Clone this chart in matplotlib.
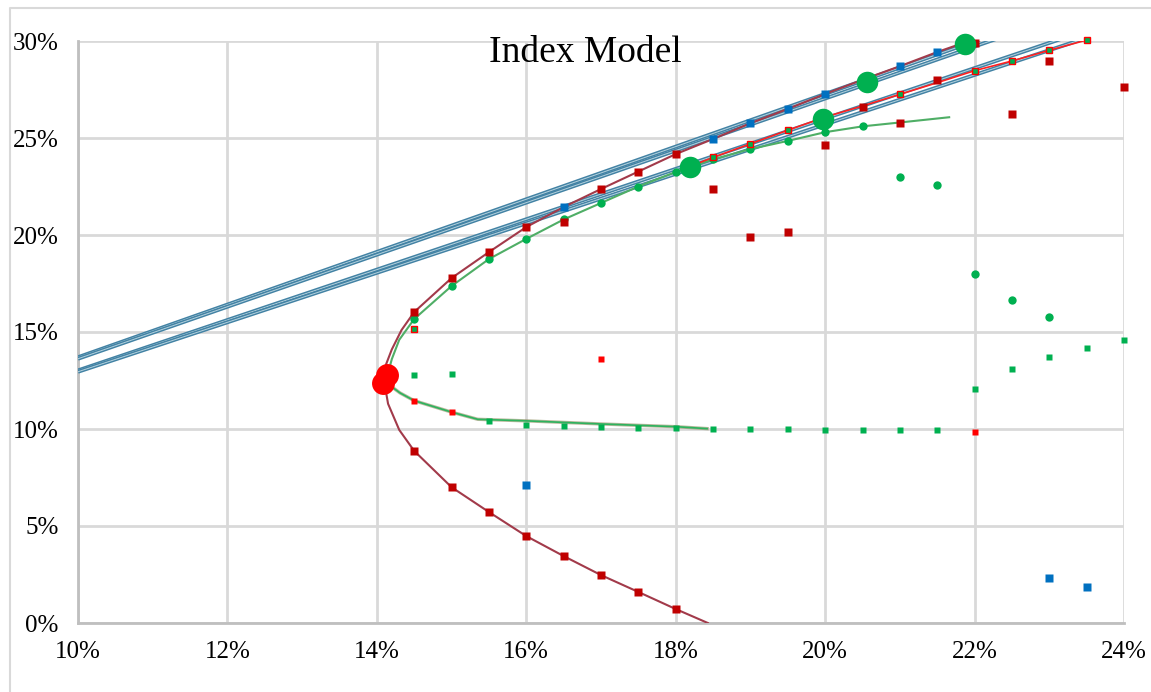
import numpy as np
import matplotlib.pyplot as plt
from matplotlib.lines import Line2D
from matplotlib.ticker import FuncFormatter

plt.rcParams['font.family'] = ['Liberation Serif', 'DejaVu Serif']

# full-covariance frontier (smooth dark red curve), sigma / mean in %
full_sd = [18.43, 18.0, 17.5, 17.0, 16.5, 16.0, 15.5, 15.0, 14.5, 14.3, 14.15, 14.1,
           14.12, 14.2, 14.33, 14.5, 15.0, 15.5, 16.0, 16.5, 17.0, 17.5, 18.0, 18.5,
           19.0, 19.5, 20.0, 20.5, 21.0, 21.5, 22.0, 22.2]
full_mu = [0.0, 0.72, 1.6, 2.47, 3.45, 4.48, 5.72, 7.0, 8.87, 9.95, 11.3, 12.4,
           13.3, 14.1, 15.1, 16.03, 17.78, 19.12, 20.41, 21.44, 22.37, 23.27, 24.17, 24.95,
           25.76, 26.5, 27.27, 28.0, 28.7, 29.43, 30.1, 30.4]

# dark red square markers
red_sd = [14.5, 15.0, 15.5, 16.0, 16.5, 17.0, 17.5, 18.0,
          14.5, 15.0, 15.5, 16.0, 17.0, 17.5, 18.0,
          16.5, 18.5, 19.0, 19.5, 20.0, 20.5, 21.0, 21.5, 22.0, 22.5, 23.0, 24.0]
red_mu = [8.87, 7.0, 5.72, 4.48, 3.45, 2.47, 1.6, 0.72,
          16.03, 17.78, 19.12, 20.41, 22.37, 23.27, 24.17,
          20.67, 22.36, 19.91, 20.17, 24.62, 26.58, 25.79, 27.99, 29.9, 26.22, 28.98, 27.64]

# blue square markers
blue_sd = [16.5, 18.5, 19.0, 19.5, 20.0, 21.0, 21.5, 16.0, 23.0, 23.5]
blue_mu = [21.44, 24.95, 25.76, 26.5, 27.27, 28.7, 29.43, 7.1, 2.3, 1.85]

# index model frontier, upper part (green line with circles)
idx_up_sd = [14.13, 14.2, 14.3, 14.5, 15.0, 15.5, 16.0, 16.5, 17.0, 17.5, 18.0, 18.5,
             19.0, 19.5, 20.0, 20.5, 21.0, 21.66]
idx_up_mu = [12.6, 13.6, 14.6, 15.67, 17.37, 18.76, 19.8, 20.8, 21.65, 22.5, 23.25, 23.9,
             24.43, 24.85, 25.3, 25.6, 25.8, 26.07]
gcirc_sd = [14.5, 15.0, 15.5, 16.0, 16.5, 17.0, 17.5, 18.0, 18.5, 19.0, 19.5, 20.0, 20.5,
            21.0, 21.5, 22.0, 22.5, 23.0]
gcirc_mu = [15.67, 17.37, 18.76, 19.8, 20.8, 21.65, 22.5, 23.25, 23.9, 24.43, 24.85, 25.3, 25.6,
            22.99, 22.58, 17.99, 16.65, 15.76]

# index model frontier, lower part
idx_lo_sd = [14.12, 14.31, 14.5, 15.0, 15.35, 16.0, 17.0, 18.0, 18.42]
idx_lo_mu = [12.4, 11.86, 11.46, 10.87, 10.5, 10.42, 10.26, 10.12, 10.02]

# small green squares
gsq_sd = [14.5, 15.0, 15.5, 16.0, 16.5, 17.0, 17.5, 18.0, 18.5, 19.0, 19.5, 20.0, 20.5, 21.0,
          21.5, 22.0, 22.5, 23.0, 23.5, 24.0]
gsq_mu = [12.78, 12.85, 10.42, 10.2, 10.15, 10.1, 10.05, 10.05, 10.0, 10.0, 10.0, 9.95, 9.95, 9.95,
          9.95, 12.06, 13.1, 13.7, 14.17, 14.57]

# small bright red squares
rsq_sd = [14.5, 15.0, 17.0, 22.0]
rsq_mu = [11.46, 10.87, 13.6, 9.86]

# bright red line with small red/green squares
line2_sd = [18.2, 18.5, 19.0, 19.5, 20.0, 20.5, 21.0, 21.5, 22.0, 22.5, 23.0, 23.5, 23.7]
line2_mu = [23.55, 24.0, 24.7, 25.4, 26.08, 26.65, 27.25, 27.85, 28.47, 28.97, 29.52, 30.05, 30.25]
rg_sd = [14.5, 18.5, 19.0, 19.5, 20.0, 21.0, 22.0, 22.5, 23.0, 23.5]
rg_mu = [15.15, 24.0, 24.7, 25.4, 26.08, 27.25, 28.47, 28.97, 29.52, 30.05]

# capital allocation lines (two pairs)
cal_sd = [10.0, 24.0]
cal_lines = [[13.70, 32.70], [13.62, 32.40], [13.02, 31.20], [12.95, 30.80]]

# large markers
big_g_sd = [18.19, 19.97, 20.56, 21.87]
big_g_mu = [23.5, 25.98, 27.9, 29.85]
big_r_sd = [14.08, 14.13]
big_r_mu = [12.37, 12.78]

fig = plt.figure(figsize=(11.51, 6.92), dpi=100)
ax = fig.add_axes([78 / 1151, 1 - 623 / 692, (1124 - 78) / 1151, (623 - 41) / 692])

ax.set_xlim(10, 24)
ax.set_ylim(0, 30)
ax.set_xticks(np.arange(10, 25, 2))
ax.set_yticks(np.arange(0, 31, 5))
pct = FuncFormatter(lambda v, p: f"{v:.0f}%")
ax.xaxis.set_major_formatter(pct)
ax.yaxis.set_major_formatter(pct)
ax.tick_params(length=0, labelsize=18, colors='#000000')
ax.tick_params(axis='x', pad=13)
ax.tick_params(axis='y', pad=14)
ax.grid(True, color='#D9D9D9', lw=2)
ax.set_axisbelow(True)
for s in ['top', 'right']:
    ax.spines[s].set_visible(False)
for s in ['left', 'bottom']:
    ax.spines[s].set_color('#BFBFBF')
    ax.spines[s].set_linewidth(2)

for mu in cal_lines:
    ax.plot(cal_sd, mu, color='#4282A4', lw=2.8, zorder=3, solid_capstyle='butt')
    ax.plot(cal_sd, mu, color='#B5D2DE', lw=0.7, zorder=3)

ax.plot(full_sd, full_mu, color='#A23A4A', lw=1.5, zorder=4)
ax.plot(idx_up_sd, idx_up_mu, color='#4FAE66', lw=1.5, zorder=4)
ax.plot(idx_lo_sd, idx_lo_mu, color='#8A8A5A', lw=2.4, alpha=0.6, zorder=4)
ax.plot(idx_lo_sd, idx_lo_mu, color='#2DB35E', lw=1.2, zorder=4)
ax.plot(line2_sd, line2_mu, color='#FF2020', lw=1.2, zorder=4)

mk = dict(linestyle='none', mec='none', clip_on=False)
ax.plot(gcirc_sd, gcirc_mu, marker='o', color='#00B050', ms=6, zorder=5, **mk)
ax.plot(gsq_sd, gsq_mu, marker='s', color='#00B050', ms=4.2, zorder=5, **mk)
ax.plot(red_sd, red_mu, marker='s', color='#C00000', ms=6.2, zorder=6, **mk)
ax.plot(blue_sd, blue_mu, marker='s', color='#0070C0', ms=5.8, zorder=6, **mk)
ax.plot(rsq_sd, rsq_mu, marker='s', color='#FF0000', ms=4.2, zorder=6, **mk)
ax.plot(rg_sd, rg_mu, 's', mfc='#00B050', mec='#FF0000', mew=1.0, ms=4.2, zorder=6, clip_on=False)

ax.plot(big_g_sd, big_g_mu, marker='o', color='#00B050', ms=15.5, zorder=7, **mk)
ax.plot(big_r_sd, big_r_mu, marker='o', color='#FF0000', ms=16.5, zorder=7, **mk)

ax.text(585 / 1151, 1 - 53 / 692, 'Index Model', transform=fig.transFigure,
        ha='center', va='center', fontsize=27, zorder=10)

# outer chart frame
fig.add_artist(Line2D([10 / 1151, 10 / 1151, 1.0], [0.0, 1 - 8 / 692, 1 - 8 / 692],
                      transform=fig.transFigure, color='#D9D9D9', lw=1.5))

fig.savefig('out.png', dpi=100)
